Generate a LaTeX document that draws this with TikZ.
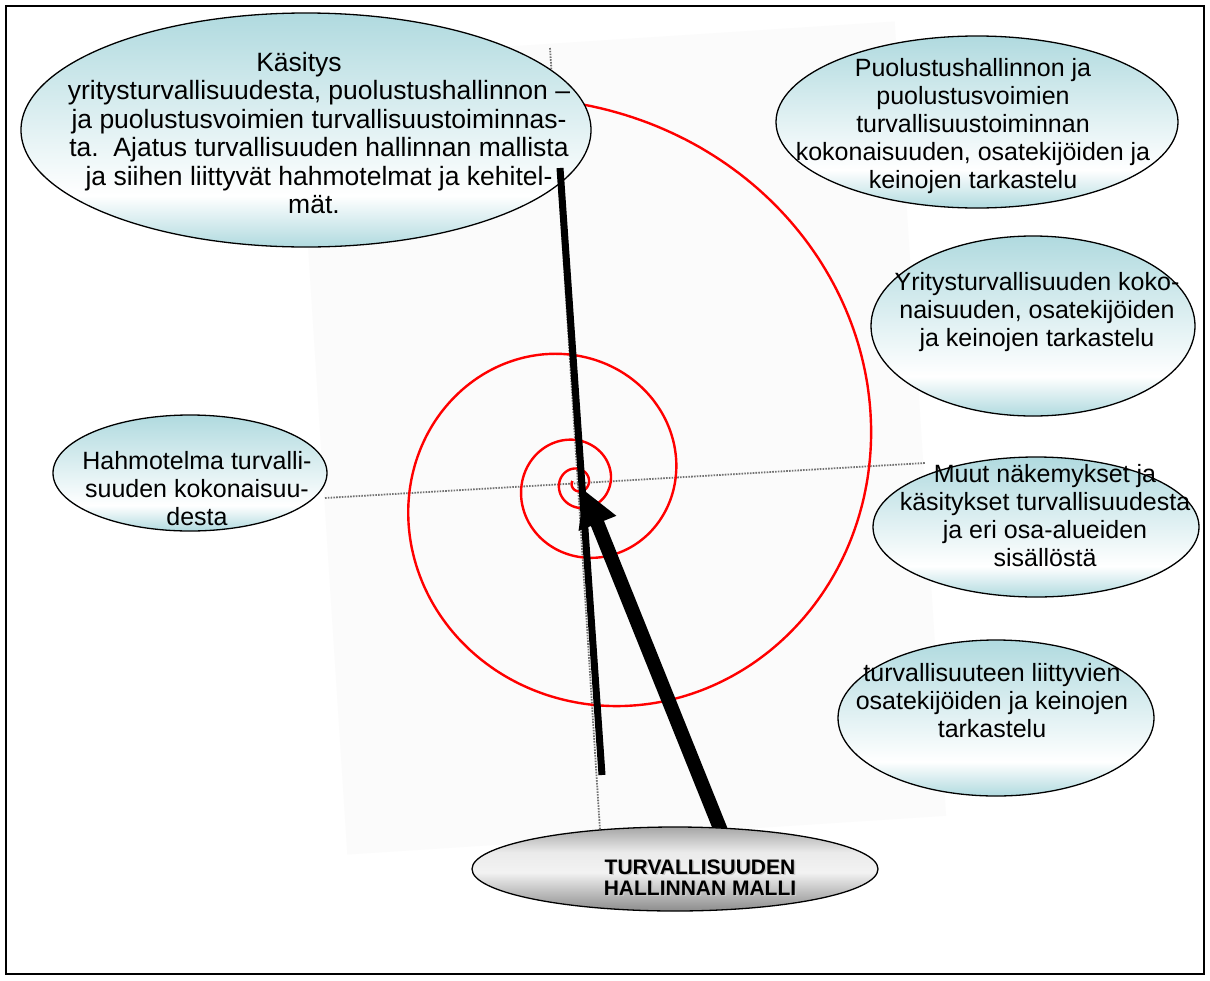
\documentclass[tikz,border=0pt]{standalone}
\usepackage{fontspec}
\setmainfont{Liberation Sans}
\usetikzlibrary{shapes.geometric,arrows.meta,calc}
\definecolor{tealc}{RGB}{176,218,223}
\definecolor{faint}{RGB}{251,251,251}
\pgfdeclareverticalshading{ellshade}{100bp}{color(0bp)=(tealc); color(25bp)=(tealc); color(36bp)=(white); color(75bp)=(tealc); color(100bp)=(tealc)}
\pgfdeclareverticalshading{greyshade}{100bp}{color(0bp)=(black!45); color(25bp)=(black!45); color(48bp)=(black!5); color(60bp)=(black!8); color(75bp)=(black!35); color(100bp)=(black!35)}
\pgfdeclarelayer{background}
\pgfsetlayers{background,main}
\begin{document}
\begin{tikzpicture}[x=1pt,y=-1pt,
  ell/.style={ellipse, draw=black, line width=1.3pt, inner sep=0pt, shade, shading=ellshade},
  greyell/.style={ellipse, draw=black, line width=1.3pt, inner sep=0pt, shade, shading=greyshade},
  txt/.style={align=center, inner sep=0pt, font=\fontsize{25}{28}\selectfont},
  txtbig/.style={align=center, inner sep=0pt, font=\fontsize{26.5}{28.5}\selectfont},
  txtbold/.style={align=center, inner sep=0pt, font=\fontsize{21}{21}\selectfont\bfseries},
  axis/.style={draw=black!55, line width=1.8pt, dash pattern=on 1.6pt off 1.2pt},
  spiral/.style={draw=red, line width=2.4pt},
  thinbar/.style={draw=black, line width=7pt},
  bigarrow/.style={draw=black, line width=14pt, -{Triangle[length=36pt,width=38pt]}}]
\useasboundingbox (0,0) rectangle (1210,980);

% ellipses
\node[ell, minimum width=570pt, minimum height=234pt] (e1) at (306,130) {};
\node[ell, minimum width=402pt, minimum height=172pt] (e2) at (977,122) {};
\node[ell, minimum width=324pt, minimum height=180pt] (e3) at (1033,326) {};
\node[ell, minimum width=326pt, minimum height=140pt] (e4) at (1036,527) {};
\node[ell, minimum width=316pt, minimum height=156pt] (e5) at (996,718) {};
\node[ell, minimum width=274pt, minimum height=116pt] (e6) at (190,473) {};
\node[greyell, minimum width=406pt, minimum height=84pt] (e7) at (675,869) {};

\coordinate (axTop) at (550,48);
\coordinate (axBot) at (600,830);
\coordinate (axLeft) at (325,498);
\coordinate (axRight) at (925,463);
\coordinate (arrTip) at (584,490);
\coordinate (barTop) at (560,168);
\coordinate (barBot) at (602,775);

\begin{pgfonlayer}{background}
  \fill[white] (0,0) rectangle (1210,980);
  \fill[faint, rotate around={3.7:(621,438)}] (321,40) rectangle (921,836);
  \draw[axis] (axTop) -- (axBot);
  \draw[axis] (axLeft) -- (axRight);
  \draw[spiral] plot[domain=125:-1280, samples=1100, variable=\t]
    ({578+391*exp(0.1738*(\t-100)/57.29578)*cos(\t)},
     {483-391*exp(0.1738*(\t-100)/57.29578)*sin(\t)});
  \draw[bigarrow] ($(e7.43)!-8pt!(arrTip)$) -- (arrTip);
\end{pgfonlayer}

\draw[thinbar] (barBot) -- (barTop);

% texts
\node[txtbig] (t1) at (319,133) {K\"asitys\hspace*{40pt}\\ yritysturvallisuudesta, puolustushallinnon –\\ ja puolustusvoimien turvallisuustoiminnas-\\ ta.\ \ Ajatus turvallisuuden hallinnan mallista\\ ja siihen liittyv\"at hahmotelmat ja kehitel-\\ m\"at.\hspace*{10pt}};
\node[txt] (t2) at (973,126) {Puolustushallinnon ja\\ puolustusvoimien\\ turvallisuustoiminnan\\ kokonaisuuden, osatekij\"oiden ja\\ keinojen tarkastelu};
\node[txt] (t3) at (1037,312) {Yritysturvallisuuden koko-\\ naisuuden, osatekij\"oiden\\ ja keinojen tarkastelu};
\node[txt] (t4) at (1045,516) {Muut n\"akemykset ja\\ k\"asitykset turvallisuudesta\\ ja eri osa-alueiden\\ sis\"all\"ost\"a};
\node[txt] (t5) at (992,701) {turvallisuuteen liittyvien\\ osatekij\"oiden ja keinojen\\ tarkastelu};
\node[txt] (t6) at (197,489) {Hahmotelma turvalli-\\ suuden kokonaisuu-\\ desta};
\node[txtbold, text=black!22] (t7s) at (701.5,879) {TURVALLISUUDEN\\ HALLINNAN MALLI};
\node[txtbold] (t7) at (700,877.5) {TURVALLISUUDEN\\ HALLINNAN MALLI};

% frame
\draw[line width=1.6pt] (6,6) rectangle (1204,974);
\end{tikzpicture}
\end{document}
